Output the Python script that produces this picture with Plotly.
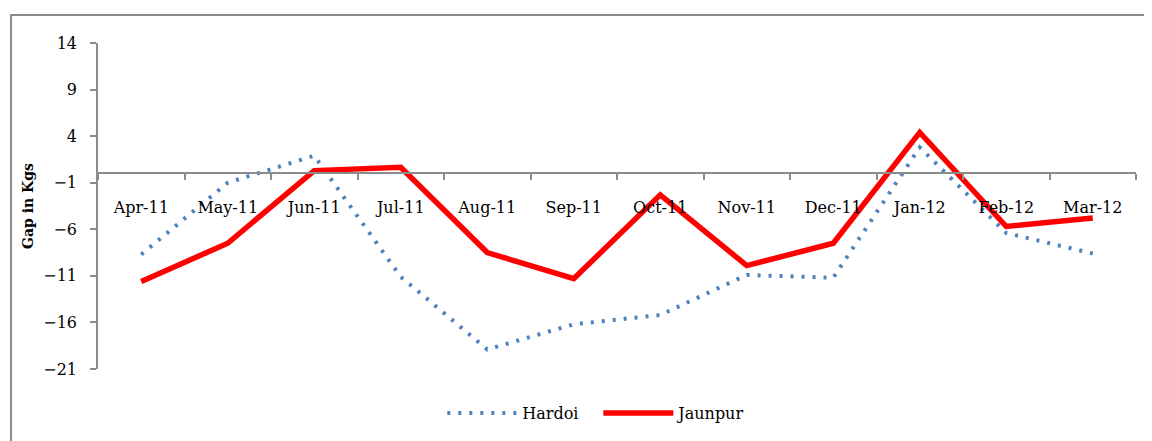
import plotly.graph_objects as go

months = ["Apr-11", "May-11", "Jun-11", "Jul-11", "Aug-11", "Sep-11",
          "Oct-11", "Nov-11", "Dec-11", "Jan-12", "Feb-12", "Mar-12"]
hardoi = [-8.7, -1.0, 1.9, -11.1, -18.9, -16.2, -15.2, -10.9, -11.2, 2.8, -6.4, -8.6]
jaunpur = [-11.6, -7.5, 0.3, 0.65, -8.5, -11.3, -2.3, -9.9, -7.5, 4.4, -5.7, -4.8]

SERIF = "DejaVu Serif"
GRAY = "#8c8c8c"

fig = go.Figure()

fig.add_trace(go.Scatter(
    x=months, y=hardoi, mode="lines", name="Hardoi",
    line=dict(color="#4f81bd", width=4, dash="3px,8px"),
))
fig.add_trace(go.Scatter(
    x=months, y=jaunpur, mode="lines", name="Jaunpur",
    line=dict(color="#ff0000", width=5.5),
))

fig.update_xaxes(
    type="category", range=[-0.5, 11.5],
    anchor="free", position=0.6, automargin=False,
    showline=True, linecolor=GRAY, linewidth=1.5,
    ticks="outside", tickson="boundaries", ticklen=6, tickcolor=GRAY, tickwidth=1.5,
    ticklabelstandoff=20,
    showgrid=False, zeroline=False,
    tickfont=dict(family=SERIF, size=16, color="black"),
)
fig.update_yaxes(
    range=[-21, 14], tick0=-21, dtick=5, automargin=False,
    showline=True, linecolor=GRAY, linewidth=1.5,
    ticks="outside", ticklen=6, tickcolor=GRAY, tickwidth=1.5,
    ticklabelstandoff=10,
    showgrid=False, zeroline=False,
    tickfont=dict(family=SERIF, size=16, color="black"),
    title=dict(text="<b>Gap in Kgs</b>", font=dict(family=SERIF, size=14, color="black"),
               standoff=6),
)

# chart-area border, as in the original spreadsheet export
fig.add_shape(type="rect", xref="paper", yref="paper",
              x0=-0.0838, x1=1.2, y0=-0.5, y1=1.0859,
              line=dict(color=GRAY, width=2), layer="below")

# page body adds an 8px margin, so the figure is 8px smaller on each axis
fig.update_layout(
    width=1144, height=433,
    margin=dict(l=90, r=16, t=35, b=72, autoexpand=False),
    plot_bgcolor="white", paper_bgcolor="white",
    font=dict(family=SERIF, size=16, color="black"),
    showlegend=True,
    legend=dict(orientation="h", x=0.482, xanchor="center", y=-0.135, yanchor="middle",
                font=dict(family=SERIF, size=16, color="black"),
                itemwidth=70, entrywidth=71),
)

fig.write_html("out.html")
